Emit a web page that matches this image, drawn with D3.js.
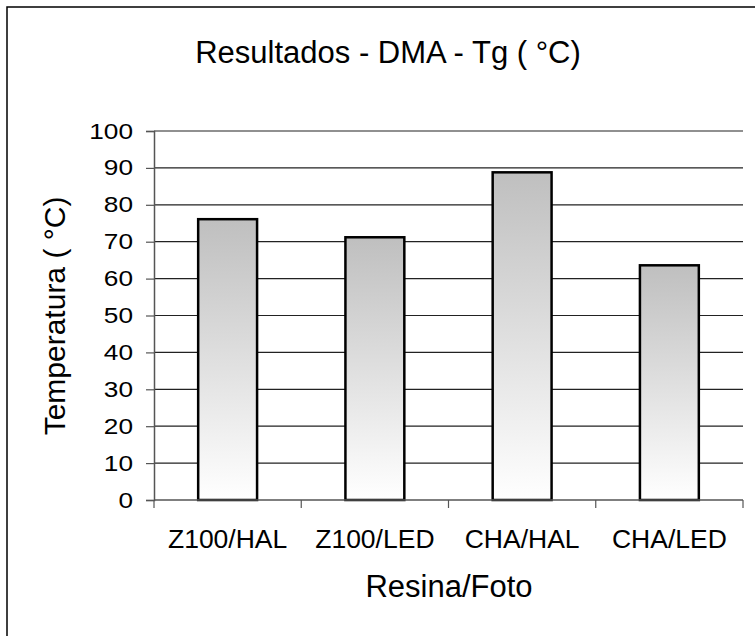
<!DOCTYPE html>
<html>
<head>
<meta charset="utf-8">
<script src="https://cdn.jsdelivr.net/npm/d3@7"></script>
<style>
  html, body { margin: 0; padding: 0; background: #fff; }
  svg { display: block; font-family: "Liberation Sans", Arial, sans-serif; }
</style>
</head>
<body>
<svg id="chart" width="755" height="636"></svg>
<script>
// Glass transition temperature per resin / light source
const categories = ["Z100/HAL", "Z100/LED", "CHA/HAL", "CHA/LED"];
const tgValues = [76.1, 71.2, 88.8, 63.6];
const yTicks = [0, 10, 20, 30, 40, 50, 60, 70, 80, 90, 100];

const svg = d3.select("#chart");
const plotLeft = 154, plotRight = 743, plotTop = 131, plotBottom = 500;

// frame (top and left edges)
svg.append("path")
  .attr("d", "M7,636 V7 H755")
  .attr("fill", "none").attr("stroke", "#000").attr("stroke-width", 1.5);

const defs = svg.append("defs");
const grad = defs.append("linearGradient").attr("id", "barFill")
  .attr("x1", 0).attr("y1", 0).attr("x2", 0).attr("y2", 1);
grad.append("stop").attr("offset", "0%").attr("stop-color", "#bfbfbf");
grad.append("stop").attr("offset", "100%").attr("stop-color", "#ffffff");

const x = d3.scaleBand().domain(categories).range([plotLeft, plotRight]).paddingInner(0).paddingOuter(0);
const y = d3.scaleLinear().domain([0, 100]).range([plotBottom, plotTop]);

// gridlines
svg.append("g").selectAll("line").data(yTicks.filter(d => d > 0)).join("line")
  .attr("x1", plotLeft).attr("x2", plotRight)
  .attr("y1", d => y(d)).attr("y2", d => y(d))
  .attr("stroke", "#222").attr("stroke-width", 1.2);

// bars
const barW = x.bandwidth() * 0.4;
svg.append("g").selectAll("rect").data(categories).join("rect")
  .attr("x", d => x(d) + (x.bandwidth() - barW) / 2)
  .attr("width", barW)
  .attr("y", (d, i) => y(tgValues[i]))
  .attr("height", (d, i) => y(0) - y(tgValues[i]))
  .attr("fill", "url(#barFill)")
  .attr("stroke", "#000").attr("stroke-width", 2.5);

// y axis
const yAxis = svg.append("g").attr("transform", `translate(${plotLeft},0)`)
  .call(d3.axisLeft(y).tickValues(yTicks).tickSize(8).tickPadding(13).tickFormat(d3.format("d")));
yAxis.select(".domain").attr("stroke", "#555").attr("stroke-width", 1.5);
yAxis.selectAll(".tick line").attr("stroke", "#555").attr("stroke-width", 1.2);
yAxis.selectAll("text")
  .attr("font-size", 22).attr("fill", "#000")
  .attr("font-family", "Liberation Sans, Arial, sans-serif")
  .attr("textLength", d => String(d).length * 14.6)
  .attr("lengthAdjust", "spacingAndGlyphs");

// x axis with ticks at band boundaries
const xAxisG = svg.append("g");
xAxisG.append("line").attr("x1", plotLeft).attr("x2", plotRight).attr("y1", plotBottom).attr("y2", plotBottom)
  .attr("stroke", "#555").attr("stroke-width", 1.5);
const boundaries = categories.map(c => x(c)).concat([x(categories[categories.length - 1]) + x.bandwidth()]);
xAxisG.selectAll("line.tk").data(boundaries).join("line").attr("class", "tk")
  .attr("x1", d => d).attr("x2", d => d).attr("y1", plotBottom).attr("y2", plotBottom + 8)
  .attr("stroke", "#555").attr("stroke-width", 1.2);
xAxisG.selectAll("text").data(categories).join("text")
  .attr("x", d => x(d) + x.bandwidth() / 2).attr("y", 548)
  .attr("text-anchor", "middle").attr("font-size", 26.5).attr("fill", "#000")
  .text(d => d);

// titles
svg.append("text").attr("x", 388).attr("y", 63).attr("text-anchor", "middle")
  .attr("font-size", 31).text("Resultados - DMA - Tg ( °C)");
svg.append("text").attr("x", 449).attr("y", 597).attr("text-anchor", "middle")
  .attr("font-size", 31).text("Resina/Foto");
svg.append("text").attr("transform", "translate(65,316) rotate(-90)").attr("text-anchor", "middle")
  .attr("font-size", 30).text("Temperatura ( °C)");
</script>
</body>
</html>
